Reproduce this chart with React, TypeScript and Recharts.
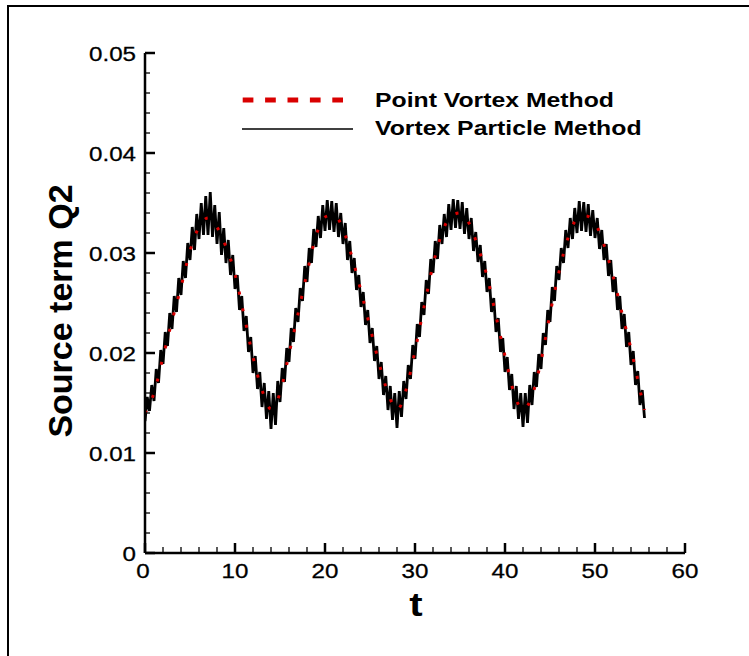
import React from 'react';
import { LineChart, Line, XAxis, YAxis, Customized } from 'recharts';

// ---- data ----
const redT = [
  0, 1, 2, 3, 4, 5, 6, 7, 8, 9,
  10, 11, 12, 13, 14, 15, 16, 17, 18, 19,
  20, 21, 22, 23, 24, 25, 26, 27, 28, 29,
  30, 31, 32, 33, 34, 35, 36, 37, 38, 39,
  40, 41, 42, 43, 44, 45, 46, 47, 48, 49,
  50, 51, 52, 53, 54, 55, 55.5,
];
const redQ = [
  0.0140, 0.0160, 0.0196, 0.0232, 0.0266, 0.0302, 0.0326, 0.0335, 0.0326, 0.0306,
  0.0279, 0.0238, 0.0196, 0.0163, 0.0144, 0.0160, 0.0199, 0.0239, 0.0280, 0.0317,
  0.0336, 0.0338, 0.0324, 0.0296, 0.0262, 0.0226, 0.0190, 0.0160, 0.0143, 0.0163,
  0.0202, 0.0246, 0.0288, 0.0320, 0.0337, 0.0340, 0.0330, 0.0306, 0.0277, 0.0237,
  0.0197, 0.0160, 0.0143, 0.0157, 0.0192, 0.0239, 0.0281, 0.0315, 0.0334, 0.0337,
  0.0330, 0.0308, 0.0277, 0.0240, 0.0204, 0.0163, 0.0143,
];

// Vortex particle method: sampled every 0.25 in t, from t = 0 to 55.5
const blackStep = 0.25;
const blackQ = [
  0.0132, 0.0156, 0.0142, 0.0168,
  0.0152, 0.0184, 0.0170, 0.0203,
  0.0189, 0.0221, 0.0207, 0.0240,
  0.0224, 0.0257, 0.0241, 0.0275,
  0.0258, 0.0292, 0.0275, 0.0310,
  0.0293, 0.0326, 0.0303, 0.0339,
  0.0314, 0.0350, 0.0318, 0.0357,
  0.0318, 0.0361, 0.0316, 0.0348,
  0.0309, 0.0341, 0.0298, 0.0325,
  0.0290, 0.0313, 0.0278, 0.0298,
  0.0264, 0.0278, 0.0243, 0.0257,
  0.0222, 0.0237, 0.0201, 0.0216,
  0.0180, 0.0197, 0.0164, 0.0181,
  0.0146, 0.0170, 0.0134, 0.0162,
  0.0124, 0.0160, 0.0128, 0.0172,
  0.0151, 0.0185, 0.0171, 0.0205,
  0.0191, 0.0225, 0.0211, 0.0245,
  0.0231, 0.0265, 0.0252, 0.0287,
  0.0271, 0.0305, 0.0290, 0.0324,
  0.0306, 0.0337, 0.0315, 0.0348,
  0.0322, 0.0353, 0.0323, 0.0352,
  0.0321, 0.0350, 0.0316, 0.0340,
  0.0309, 0.0330, 0.0293, 0.0312,
  0.0280, 0.0295, 0.0263, 0.0278,
  0.0246, 0.0261, 0.0228, 0.0243,
  0.0210, 0.0225, 0.0192, 0.0207,
  0.0174, 0.0191, 0.0158, 0.0177,
  0.0143, 0.0167, 0.0133, 0.0160,
  0.0125, 0.0162, 0.0136, 0.0172,
  0.0154, 0.0188, 0.0174, 0.0208,
  0.0194, 0.0229, 0.0216, 0.0251,
  0.0238, 0.0273, 0.0259, 0.0294,
  0.0280, 0.0312, 0.0294, 0.0328,
  0.0309, 0.0339, 0.0316, 0.0349,
  0.0323, 0.0354, 0.0325, 0.0353,
  0.0324, 0.0351, 0.0319, 0.0345,
  0.0314, 0.0335, 0.0302, 0.0321,
  0.0291, 0.0308, 0.0276, 0.0292,
  0.0261, 0.0275, 0.0241, 0.0255,
  0.0221, 0.0235, 0.0201, 0.0215,
  0.0181, 0.0196, 0.0163, 0.0179,
  0.0144, 0.0167, 0.0134, 0.0160,
  0.0126, 0.0160, 0.0130, 0.0168,
  0.0148, 0.0181, 0.0166, 0.0199,
  0.0184, 0.0220, 0.0208, 0.0243,
  0.0231, 0.0266, 0.0252, 0.0287,
  0.0273, 0.0305, 0.0290, 0.0323,
  0.0305, 0.0335, 0.0314, 0.0345,
  0.0320, 0.0352, 0.0322, 0.0351,
  0.0321, 0.0349, 0.0317, 0.0343,
  0.0315, 0.0335, 0.0304, 0.0323,
  0.0293, 0.0309, 0.0277, 0.0293,
  0.0261, 0.0276, 0.0243, 0.0257,
  0.0224, 0.0239, 0.0206, 0.0221,
  0.0188, 0.0202, 0.0168, 0.0182,
  0.0148, 0.0163, 0.0135,
];

// ---- ticks ----
const xTicks = [0, 2, 4, 6, 8, 10, 12, 14, 16, 18, 20, 22, 24, 26, 28, 30, 32, 34, 36, 38, 40, 42, 44, 46, 48, 50, 52, 54, 56, 58, 60];
const xMajor = [0, 10, 20, 30, 40, 50, 60];
const xLabels = ['0', '10', '20', '30', '40', '50', '60'];
const yTicks = [
  0, 0.002, 0.004, 0.006, 0.008, 0.01, 0.012, 0.014, 0.016, 0.018, 0.02, 0.022, 0.024,
  0.026, 0.028, 0.03, 0.032, 0.034, 0.036, 0.038, 0.04, 0.042, 0.044, 0.046, 0.048, 0.05,
];
const yMajor = [0, 0.01, 0.02, 0.03, 0.04, 0.05];
const yLabels = ['0', '0.01', '0.02', '0.03', '0.04', '0.05'];

const seriesNames = ['Point Vortex Method', 'Vortex Particle Method'];
const xTitle = 't';
const yTitle = 'Source term Q2';

const redData = redT.map((t, i) => ({ t, q: redQ[i] }));
const blackData = blackQ.map((q, i) => ({ t: i * blackStep, q }));

const FONT = '"Liberation Sans", Arial, Helvetica, sans-serif';
const RED = '#d90000';

const YTick = (props: any) => {
  const { x, y, payload } = props;
  const idx = yMajor.indexOf(payload.value);
  const major = idx >= 0;
  return (
    <g>
      <line x1={x} x2={x + (major ? 10 : 5)} y1={y} y2={y} stroke="#000" strokeWidth={major ? 2.5 : 1.3} />
      {major && (
        <text
          transform={`translate(${x - 9},${y + 8}) scale(1.15,1)`}
          textAnchor="end"
          fontFamily={FONT}
          fontSize={21}
          fill="#000"
          stroke="#000"
          strokeWidth={0.3}
        >
          {yLabels[idx]}
        </text>
      )}
    </g>
  );
};

const XTick = (props: any) => {
  const { x, y, payload } = props;
  const idx = xMajor.indexOf(payload.value);
  const major = idx >= 0;
  return (
    <g>
      <line x1={x} x2={x} y1={y} y2={y - (major ? 10 : 6)} stroke="#000" strokeWidth={major ? 2.5 : 1.3} />
      {major && (
        <text
          transform={`translate(${x - (payload.value === 0 ? 2 : 0)},${y + 25}) scale(1.15,1)`}
          textAnchor="middle"
          fontFamily={FONT}
          fontSize={21}
          fill="#000"
          stroke="#000"
          strokeWidth={0.3}
        >
          {xLabels[idx]}
        </text>
      )}
    </g>
  );
};

const Overlay = () => (
  <g>
    <line x1={242.7} x2={343.3} y1={100} y2={100} stroke={RED} strokeWidth={5} strokeDasharray="10.7 11.7" />
    <line x1={242} x2={353} y1={129} y2={129} stroke="#000" strokeWidth={1.3} />
    <text transform="translate(375,107) scale(1.18,1)" fontFamily={FONT} fontWeight="bold" fontSize={21} fill="#000">
      {seriesNames[0]}
    </text>
    <text transform="translate(375,135) scale(1.18,1)" fontFamily={FONT} fontWeight="bold" fontSize={21} fill="#000">
      {seriesNames[1]}
    </text>
    <text
      transform="translate(72,311) rotate(-90)"
      textAnchor="middle"
      fontFamily={FONT}
      fontWeight="bold"
      fontSize={34}
      fill="#000"
    >
      {yTitle}
    </text>
    <text
      transform="translate(416,616) scale(1.18,1)"
      textAnchor="middle"
      fontFamily={FONT}
      fontWeight="bold"
      fontSize={34}
      fill="#000"
    >
      {xTitle}
    </text>
  </g>
);

export default function App() {
  return (
    <div style={{ position: 'absolute', left: 0, top: 0, width: 749, height: 656, overflow: 'hidden', background: '#fff' }}>
      <div
        style={{
          position: 'absolute',
          left: 7,
          top: 5,
          width: 800,
          height: 800,
          borderTop: '2px solid #000',
          borderLeft: '2px solid #000',
        }}
      />
      <div style={{ position: 'absolute', left: 0, top: 0 }}>
        <LineChart width={749} height={656} data={redData} margin={{ top: 53, right: 64, bottom: 73, left: 85 }}>
          <XAxis
            dataKey="t"
            type="number"
            domain={[0, 60]}
            ticks={xTicks}
            interval={0}
            tickSize={0}
            tickMargin={0}
            tickLine={false}
            tick={XTick}
            height={30}
            axisLine={{ stroke: '#000', strokeWidth: 2.5 }}
            allowDataOverflow
          />
          <YAxis
            type="number"
            domain={[0, 0.05]}
            ticks={yTicks}
            interval={0}
            tickSize={0}
            tickMargin={0}
            tickLine={false}
            tick={YTick}
            width={60}
            axisLine={{ stroke: '#000', strokeWidth: 2.5 }}
            allowDataOverflow
          />
          <Line
            data={blackData}
            dataKey="q"
            type="linear"
            stroke="#000"
            strokeWidth={2.8}
            dot={false}
            activeDot={false}
            isAnimationActive={false}
          />
          <Line
            data={redData}
            dataKey="q"
            type="monotone"
            stroke={RED}
            strokeWidth={3}
            strokeDasharray="3 14"
            dot={false}
            activeDot={false}
            isAnimationActive={false}
          />
          <Customized component={Overlay} />
        </LineChart>
      </div>
    </div>
  );
}
